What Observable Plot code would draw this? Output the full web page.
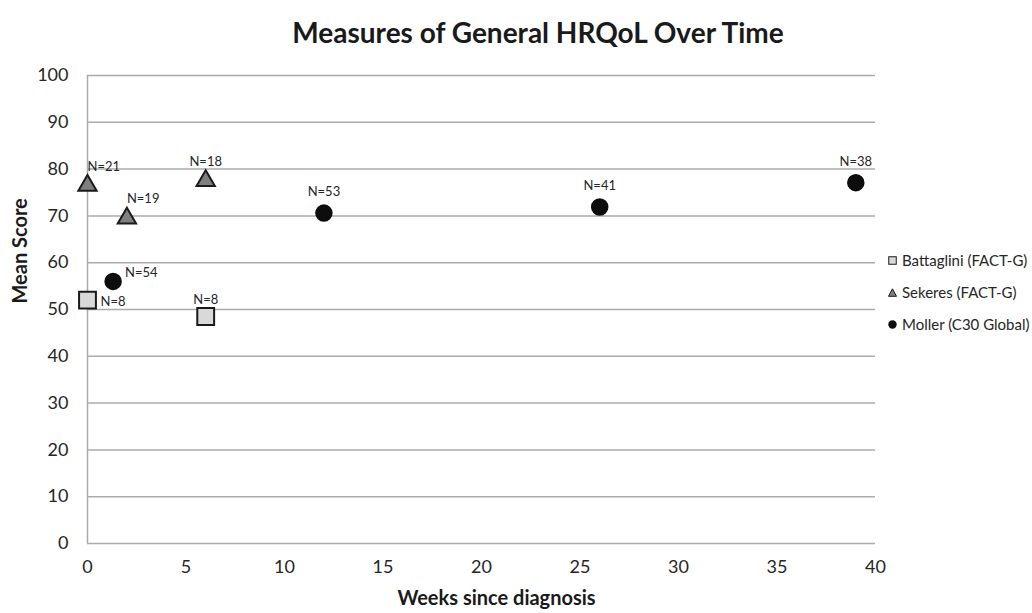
<!DOCTYPE html>
<html>
<head>
<meta charset="utf-8">
<script src="https://cdn.jsdelivr.net/npm/d3@7"></script>
<script src="https://cdn.jsdelivr.net/npm/@observablehq/plot@0.6"></script>
<style>
  html, body { margin: 0; padding: 0; background: #fff; }
  body { width: 1032px; height: 613px; position: relative; overflow: hidden; font-family: Lato, "Open Sans", sans-serif; color: #262626; }
  #title { height: 50px; text-align: center; font-weight: bold; font-size: 28px; line-height: 28px; padding-top: 18px; box-sizing: border-box; padding-left: 44px; color: #1a1a1a; }
  #legend { position: absolute; left: 888px; top: 244px; font-size: 15px; color: #262626; }
  #legend .item { height: 32px; display: flex; align-items: center; }
  #legend svg { margin-right: 5px; }
</style>
</head>
<body>
<div id="title">Measures of General HRQoL Over Time</div>
<div id="chart"></div>
<div id="legend"></div>
<script>
// Data
const battagliniWeeks = [0, 6];
const battagliniScores = [52, 48.5];
const battagliniN = [8, 8];

const sekeresWeeks = [0, 2, 6];
const sekeresScores = [76.5, 69.5, 77.5];
const sekeresN = [21, 19, 18];

const mollerWeeks = [1.3, 12, 26, 39];
const mollerScores = [56, 70.6, 71.9, 77.1];
const mollerN = [54, 53, 41, 38];

const seriesNames = ["Battaglini (FACT-G)", "Sekeres (FACT-G)", "Moller (C30 Global)"];
const xTicks = [0, 5, 10, 15, 20, 25, 30, 35, 40];
const yTicks = [0, 10, 20, 30, 40, 50, 60, 70, 80, 90, 100];
const xLabel = "Weeks since diagnosis";
const yLabel = "Mean Score";

const mk = (weeks, scores, ns, name) => weeks.map((w, i) => ({week: w, score: scores[i], n: ns[i], label: "N=" + ns[i], series: name, idx: i}));
const batt = mk(battagliniWeeks, battagliniScores, battagliniN, seriesNames[0]);
const sek = mk(sekeresWeeks, sekeresScores, sekeresN, seriesNames[1]);
const mol = mk(mollerWeeks, mollerScores, mollerN, seriesNames[2]);

const labelFont = {fontSize: 13, fill: "#262626"};

const chart = Plot.plot({
  width: 1032,
  height: 563,
  marginLeft: 87,
  marginRight: 157,
  marginTop: 25,
  marginBottom: 70,
  style: {fontFamily: "Lato, 'Open Sans', sans-serif", fontSize: "17px", color: "#262626", background: "#fff"},
  x: {domain: [0, 40]},
  y: {domain: [0, 100]},
  marks: [
    Plot.gridY(yTicks, {stroke: "#ababab", strokeOpacity: 1, strokeWidth: 1.5}),
    Plot.ruleX([0], {stroke: "#ababab", strokeWidth: 1.5}),
    Plot.axisY(yTicks, {tickSize: 0, tickPadding: 19, fontSize: 18, fill: "#262626", label: null}),
    Plot.axisX(xTicks, {tickSize: 0, tickPadding: 17, fontSize: 18, fill: "#262626", label: null}),
    Plot.text([yLabel], {frameAnchor: "left", dx: -67, dy: -6, rotate: -90, fontSize: 20, fontWeight: "bold", fill: "#1a1a1a"}),
    Plot.text([xLabel], {frameAnchor: "bottom", dx: 15, dy: 61, fontSize: 20, fontWeight: "bold", fill: "#1a1a1a"}),
    Plot.dot(batt, {x: "week", y: "score", symbol: "square", r: 9.5, fill: "#d9d9d9", stroke: "#1a1a1a", strokeWidth: 2}),
    Plot.dot(sek, {x: "week", y: "score", symbol: "triangle", r: 6.8, fill: "#7f7f7f", stroke: "#1a1a1a", strokeWidth: 2}),
    Plot.dot(mol, {x: "week", y: "score", symbol: "circle", r: 8, fill: "#0d0d0d", stroke: "#0d0d0d"}),
    // N labels
    Plot.text(sek.filter(d => d.idx < 2), {x: "week", y: "score", text: "label", textAnchor: "start", dy: -19, ...labelFont}),
    Plot.text(sek.filter(d => d.idx === 2), {x: "week", y: "score", text: "label", textAnchor: "middle", dy: -19, ...labelFont}),
    Plot.text(batt.filter(d => d.idx === 0), {x: "week", y: "score", text: "label", textAnchor: "start", dx: 13, dy: 2, ...labelFont}),
    Plot.text(batt.filter(d => d.idx === 1), {x: "week", y: "score", text: "label", textAnchor: "middle", dy: -17, ...labelFont}),
    Plot.text(mol.filter(d => d.idx === 0), {x: "week", y: "score", text: "label", textAnchor: "start", dx: 12, dy: -9, ...labelFont}),
    Plot.text(mol.filter(d => d.idx > 0), {x: "week", y: "score", text: "label", textAnchor: "middle", dy: -21, ...labelFont})
  ]
});
document.getElementById("chart").appendChild(chart);

// Legend
const legendSymbols = [
  {name: seriesNames[0], svg: '<svg width="9" height="9"><rect x="0.75" y="0.75" width="7.5" height="7.5" fill="#d9d9d9" stroke="#1a1a1a" stroke-width="1"/></svg>'},
  {name: seriesNames[1], svg: '<svg width="9" height="9"><path d="M4.5,0.8 L8.5,8.3 L0.5,8.3 Z" fill="#7f7f7f" stroke="#1a1a1a" stroke-width="1"/></svg>'},
  {name: seriesNames[2], svg: '<svg width="9" height="9"><circle cx="4.5" cy="4.5" r="4.2" fill="#0d0d0d"/></svg>'}
];
const legend = document.getElementById("legend");
legendSymbols.forEach(s => {
  const div = document.createElement("div");
  div.className = "item";
  div.innerHTML = s.svg + "<span>" + s.name + "</span>";
  legend.appendChild(div);
});
</script>
</body>
</html>
